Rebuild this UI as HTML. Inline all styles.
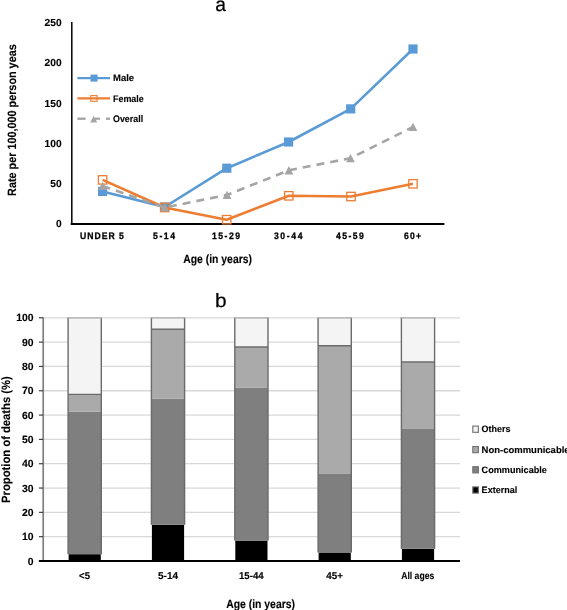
<!DOCTYPE html>
<html><head><meta charset="utf-8"><style>
html,body{margin:0;padding:0;background:#fff;}
svg{display:block;font-family:"Liberation Sans", sans-serif;will-change:transform;text-rendering:geometricPrecision;}
text[font-weight="bold"]{stroke:#000;stroke-width:.12px;}
</style></head><body>
<svg width="567" height="610" viewBox="0 0 567 610">
<rect width="567" height="610" fill="#fff"/>
<text x="215.3" y="10.5" font-size="19.6" font-weight="normal" text-anchor="start" fill="#000" textLength="10.7" lengthAdjust="spacingAndGlyphs" stroke="#000" stroke-width="0.25">a</text>
<line x1="71.8" y1="22" x2="71.8" y2="224.8" stroke="#000" stroke-width="1.5"/>
<line x1="70.7" y1="224" x2="444.4" y2="224" stroke="#000" stroke-width="1.9"/>
<text x="61.6" y="227.4" font-size="10.2" font-weight="bold" text-anchor="end" fill="#000">0</text>
<text x="61.6" y="187.12" font-size="10.2" font-weight="bold" text-anchor="end" fill="#000">50</text>
<text x="61.6" y="146.84" font-size="10.2" font-weight="bold" text-anchor="end" fill="#000">100</text>
<text x="61.6" y="106.56" font-size="10.2" font-weight="bold" text-anchor="end" fill="#000">150</text>
<text x="61.6" y="66.28" font-size="10.2" font-weight="bold" text-anchor="end" fill="#000">200</text>
<text x="61.6" y="26.0" font-size="10.2" font-weight="bold" text-anchor="end" fill="#000">250</text>
<text transform="translate(16.3,195.9) rotate(-90)" x="0" y="0" font-size="12" font-weight="bold" textLength="151.6" lengthAdjust="spacingAndGlyphs">Rate per 100,000 person yeas</text>
<text transform="translate(80,239.4) scale(0.92,1)" x="0" y="0" font-size="9.4" font-weight="bold" style="stroke-width:.3px" textLength="47.72" lengthAdjust="spacing">UNDER 5</text>
<text transform="translate(153.1,239.4) scale(0.92,1)" x="0" y="0" font-size="9.4" font-weight="bold" style="stroke-width:.3px" textLength="23.80" lengthAdjust="spacing">5-14</text>
<text transform="translate(212,239.4) scale(0.92,1)" x="0" y="0" font-size="9.4" font-weight="bold" style="stroke-width:.3px" textLength="30.43" lengthAdjust="spacing">15-29</text>
<text transform="translate(273.9,239.4) scale(0.92,1)" x="0" y="0" font-size="9.4" font-weight="bold" style="stroke-width:.3px" textLength="31.20" lengthAdjust="spacing">30-44</text>
<text transform="translate(336.1,239.4) scale(0.92,1)" x="0" y="0" font-size="9.4" font-weight="bold" style="stroke-width:.3px" textLength="30.11" lengthAdjust="spacing">45-59</text>
<text transform="translate(403.9,239.4) scale(0.92,1)" x="0" y="0" font-size="9.4" font-weight="bold" style="stroke-width:.3px" textLength="18.70" lengthAdjust="spacing">60+</text>
<text x="183.2" y="262.6" font-size="12" font-weight="bold" text-anchor="start" fill="#000" textLength="68.8" lengthAdjust="spacingAndGlyphs">Age (in years)</text>
<polyline points="102.6,191.4 164.7,207 226.8,168.2 288.6,142 350.7,108.9 413,49" fill="none" stroke="#5b9bd5" stroke-width="2.6" stroke-linejoin="round"/>
<rect x="98.0" y="186.8" width="9.2" height="9.2" fill="#5b9bd5"/>
<rect x="160.1" y="202.4" width="9.2" height="9.2" fill="#5b9bd5"/>
<rect x="222.20000000000002" y="163.6" width="9.2" height="9.2" fill="#5b9bd5"/>
<rect x="284.0" y="137.4" width="9.2" height="9.2" fill="#5b9bd5"/>
<rect x="346.09999999999997" y="104.30000000000001" width="9.2" height="9.2" fill="#5b9bd5"/>
<rect x="408.4" y="44.4" width="9.2" height="9.2" fill="#5b9bd5"/>
<polyline points="102.6,179.9 164.7,207.5 226.7,219.7 288.8,195.8 351,196.5 413,183.8" fill="none" stroke="#ed7d31" stroke-width="2.6" stroke-linejoin="round"/>
<rect x="98.39999999999999" y="175.70000000000002" width="8.4" height="8.4" fill="none" stroke="#ed7d31" stroke-width="1.3"/>
<rect x="160.5" y="203.3" width="8.4" height="8.4" fill="none" stroke="#ed7d31" stroke-width="1.3"/>
<rect x="222.5" y="215.5" width="8.4" height="8.4" fill="none" stroke="#ed7d31" stroke-width="1.3"/>
<rect x="284.6" y="191.60000000000002" width="8.4" height="8.4" fill="none" stroke="#ed7d31" stroke-width="1.3"/>
<rect x="346.8" y="192.3" width="8.4" height="8.4" fill="none" stroke="#ed7d31" stroke-width="1.3"/>
<rect x="408.8" y="179.60000000000002" width="8.4" height="8.4" fill="none" stroke="#ed7d31" stroke-width="1.3"/>
<polyline points="102.6,186 164.7,207.5 227,195 288.9,170.3 350.5,158.2 413,127" fill="none" stroke="#a5a5a5" stroke-width="2.6" stroke-dasharray="8 6" stroke-linejoin="round"/>
<polygon points="102.6,181.7 107.0,190.1 98.19999999999999,190.1" fill="#a5a5a5"/>
<polygon points="164.7,203.2 169.1,211.6 160.29999999999998,211.6" fill="#a5a5a5"/>
<polygon points="227,190.7 231.4,199.1 222.6,199.1" fill="#a5a5a5"/>
<polygon points="288.9,166.0 293.29999999999995,174.4 284.5,174.4" fill="#a5a5a5"/>
<polygon points="350.5,153.89999999999998 354.9,162.29999999999998 346.1,162.29999999999998" fill="#a5a5a5"/>
<polygon points="413,122.7 417.4,131.1 408.6,131.1" fill="#a5a5a5"/>
<line x1="77.4" y1="78.1" x2="110" y2="78.1" stroke="#5b9bd5" stroke-width="2.2"/>
<rect x="90.5" y="74.6" width="7.1" height="7" fill="#5b9bd5"/>
<line x1="77.4" y1="98.4" x2="110" y2="98.4" stroke="#ed7d31" stroke-width="2.2"/>
<rect x="90.8" y="95.6" width="6.3" height="5.7" fill="none" stroke="#ed7d31" stroke-width="1.1"/>
<line x1="77.4" y1="118.7" x2="85.6" y2="118.7" stroke="#a5a5a5" stroke-width="2.4"/>
<line x1="106" y1="118.7" x2="110" y2="118.7" stroke="#a5a5a5" stroke-width="2.4"/>
<polygon points="93.7,115.8 97.2,122.6 90.2,122.6" fill="#a5a5a5"/>
<line x1="95" y1="118.7" x2="100" y2="118.7" stroke="#a5a5a5" stroke-width="2.2"/>
<text x="113" y="81.2" font-size="9.5" font-weight="bold" text-anchor="start" fill="#000" textLength="21.1" lengthAdjust="spacingAndGlyphs">Male</text>
<text x="113" y="101.5" font-size="9.5" font-weight="bold" text-anchor="start" fill="#000" textLength="30.8" lengthAdjust="spacingAndGlyphs">Female</text>
<text x="113" y="121.9" font-size="9.5" font-weight="bold" text-anchor="start" fill="#000" textLength="30.1" lengthAdjust="spacingAndGlyphs">Overall</text>
<text x="214.9" y="307.2" font-size="19.3" font-weight="normal" text-anchor="start" fill="#000" textLength="11.6" lengthAdjust="spacingAndGlyphs" stroke="#000" stroke-width="0.25">b</text>
<line x1="43.5" y1="536.68" x2="460" y2="536.68" stroke="#d8d8d8" stroke-width="1.3"/>
<line x1="43.5" y1="512.36" x2="460" y2="512.36" stroke="#d8d8d8" stroke-width="1.3"/>
<line x1="43.5" y1="488.04" x2="460" y2="488.04" stroke="#d8d8d8" stroke-width="1.3"/>
<line x1="43.5" y1="463.72" x2="460" y2="463.72" stroke="#d8d8d8" stroke-width="1.3"/>
<line x1="43.5" y1="439.40" x2="460" y2="439.40" stroke="#d8d8d8" stroke-width="1.3"/>
<line x1="43.5" y1="415.08" x2="460" y2="415.08" stroke="#d8d8d8" stroke-width="1.3"/>
<line x1="43.5" y1="390.76" x2="460" y2="390.76" stroke="#d8d8d8" stroke-width="1.3"/>
<line x1="43.5" y1="366.44" x2="460" y2="366.44" stroke="#d8d8d8" stroke-width="1.3"/>
<line x1="43.5" y1="342.12" x2="460" y2="342.12" stroke="#d8d8d8" stroke-width="1.3"/>
<line x1="43.5" y1="317.80" x2="460" y2="317.80" stroke="#d8d8d8" stroke-width="1.3"/>
<rect x="68.60" y="554.19" width="32.20" height="6.81" fill="#000"/>
<rect x="68.10" y="411.68" width="33.20" height="142.52" fill="#7f7f7f"/>
<rect x="68.10" y="394.41" width="33.20" height="17.27" fill="#aaaaaa"/>
<rect x="68.10" y="317.80" width="33.20" height="76.61" fill="#f4f4f4"/>
<line x1="68.10" y1="317.80" x2="68.10" y2="554.19" stroke="#6b6b6b" stroke-width="1.4"/>
<line x1="101.30" y1="317.80" x2="101.30" y2="554.19" stroke="#6b6b6b" stroke-width="1.4"/>
<line x1="67.90" y1="394.41" x2="101.50" y2="394.41" stroke="#6b6b6b" stroke-width="1.4"/>
<line x1="67.40" y1="317.80" x2="102.00" y2="317.80" stroke="#a8a8a8" stroke-width="1.2"/>
<rect x="151.90" y="524.76" width="32.20" height="36.24" fill="#000"/>
<rect x="151.40" y="398.79" width="33.20" height="125.98" fill="#7f7f7f"/>
<rect x="151.40" y="329.23" width="33.20" height="69.56" fill="#aaaaaa"/>
<rect x="151.40" y="317.80" width="33.20" height="11.43" fill="#f4f4f4"/>
<line x1="151.40" y1="317.80" x2="151.40" y2="524.76" stroke="#6b6b6b" stroke-width="1.4"/>
<line x1="184.60" y1="317.80" x2="184.60" y2="524.76" stroke="#6b6b6b" stroke-width="1.4"/>
<line x1="151.20" y1="329.23" x2="184.80" y2="329.23" stroke="#6b6b6b" stroke-width="1.4"/>
<line x1="150.70" y1="317.80" x2="185.30" y2="317.80" stroke="#a8a8a8" stroke-width="1.2"/>
<rect x="235.30" y="540.57" width="32.20" height="20.43" fill="#000"/>
<rect x="234.80" y="387.84" width="33.20" height="152.73" fill="#7f7f7f"/>
<rect x="234.80" y="346.98" width="33.20" height="40.86" fill="#aaaaaa"/>
<rect x="234.80" y="317.80" width="33.20" height="29.18" fill="#f4f4f4"/>
<line x1="234.80" y1="317.80" x2="234.80" y2="540.57" stroke="#6b6b6b" stroke-width="1.4"/>
<line x1="268.00" y1="317.80" x2="268.00" y2="540.57" stroke="#6b6b6b" stroke-width="1.4"/>
<line x1="234.60" y1="346.98" x2="268.20" y2="346.98" stroke="#6b6b6b" stroke-width="1.4"/>
<line x1="234.10" y1="317.80" x2="268.70" y2="317.80" stroke="#a8a8a8" stroke-width="1.2"/>
<rect x="318.60" y="552.49" width="32.20" height="8.51" fill="#000"/>
<rect x="318.10" y="473.93" width="33.20" height="78.55" fill="#7f7f7f"/>
<rect x="318.10" y="345.77" width="33.20" height="128.17" fill="#aaaaaa"/>
<rect x="318.10" y="317.80" width="33.20" height="27.97" fill="#f4f4f4"/>
<line x1="318.10" y1="317.80" x2="318.10" y2="552.49" stroke="#6b6b6b" stroke-width="1.4"/>
<line x1="351.30" y1="317.80" x2="351.30" y2="552.49" stroke="#6b6b6b" stroke-width="1.4"/>
<line x1="317.90" y1="345.77" x2="351.50" y2="345.77" stroke="#6b6b6b" stroke-width="1.4"/>
<line x1="317.40" y1="317.80" x2="352.00" y2="317.80" stroke="#a8a8a8" stroke-width="1.2"/>
<rect x="401.90" y="548.84" width="32.20" height="12.16" fill="#000"/>
<rect x="401.40" y="428.94" width="33.20" height="119.90" fill="#7f7f7f"/>
<rect x="401.40" y="362.06" width="33.20" height="66.88" fill="#aaaaaa"/>
<rect x="401.40" y="317.80" width="33.20" height="44.26" fill="#f4f4f4"/>
<line x1="401.40" y1="317.80" x2="401.40" y2="548.84" stroke="#6b6b6b" stroke-width="1.4"/>
<line x1="434.60" y1="317.80" x2="434.60" y2="548.84" stroke="#6b6b6b" stroke-width="1.4"/>
<line x1="401.20" y1="362.06" x2="434.80" y2="362.06" stroke="#6b6b6b" stroke-width="1.4"/>
<line x1="400.70" y1="317.80" x2="435.30" y2="317.80" stroke="#a8a8a8" stroke-width="1.2"/>
<line x1="43.2" y1="317.3" x2="43.2" y2="561" stroke="#7f7f7f" stroke-width="1.7"/>
<line x1="38.9" y1="561.00" x2="43" y2="561.00" stroke="#404040" stroke-width="1.2"/>
<line x1="38.9" y1="536.68" x2="43" y2="536.68" stroke="#404040" stroke-width="1.2"/>
<line x1="38.9" y1="512.36" x2="43" y2="512.36" stroke="#404040" stroke-width="1.2"/>
<line x1="38.9" y1="488.04" x2="43" y2="488.04" stroke="#404040" stroke-width="1.2"/>
<line x1="38.9" y1="463.72" x2="43" y2="463.72" stroke="#404040" stroke-width="1.2"/>
<line x1="38.9" y1="439.40" x2="43" y2="439.40" stroke="#404040" stroke-width="1.2"/>
<line x1="38.9" y1="415.08" x2="43" y2="415.08" stroke="#404040" stroke-width="1.2"/>
<line x1="38.9" y1="390.76" x2="43" y2="390.76" stroke="#404040" stroke-width="1.2"/>
<line x1="38.9" y1="366.44" x2="43" y2="366.44" stroke="#404040" stroke-width="1.2"/>
<line x1="38.9" y1="342.12" x2="43" y2="342.12" stroke="#404040" stroke-width="1.2"/>
<line x1="38.9" y1="317.80" x2="43" y2="317.80" stroke="#404040" stroke-width="1.2"/>
<line x1="38.9" y1="561" x2="460" y2="561" stroke="#000" stroke-width="1.9"/>
<text x="33.5" y="564.6" font-size="10.4" font-weight="bold" text-anchor="end" fill="#000">0</text>
<text x="33.5" y="540.28" font-size="10.4" font-weight="bold" text-anchor="end" fill="#000">10</text>
<text x="33.5" y="515.96" font-size="10.4" font-weight="bold" text-anchor="end" fill="#000">20</text>
<text x="33.5" y="491.64" font-size="10.4" font-weight="bold" text-anchor="end" fill="#000">30</text>
<text x="33.5" y="467.32" font-size="10.4" font-weight="bold" text-anchor="end" fill="#000">40</text>
<text x="33.5" y="443.0" font-size="10.4" font-weight="bold" text-anchor="end" fill="#000">50</text>
<text x="33.5" y="418.68" font-size="10.4" font-weight="bold" text-anchor="end" fill="#000">60</text>
<text x="33.5" y="394.36" font-size="10.4" font-weight="bold" text-anchor="end" fill="#000">70</text>
<text x="33.5" y="370.04" font-size="10.4" font-weight="bold" text-anchor="end" fill="#000">80</text>
<text x="33.5" y="345.72" font-size="10.4" font-weight="bold" text-anchor="end" fill="#000">90</text>
<text x="33.5" y="321.4" font-size="10.4" font-weight="bold" text-anchor="end" fill="#000">100</text>
<text transform="translate(10,502.9) rotate(-90)" x="0" y="0" font-size="12" font-weight="bold" textLength="126.7" lengthAdjust="spacingAndGlyphs">Propotion of deaths (%)</text>
<text x="79.1" y="578.8" font-size="10" font-weight="bold" textLength="10.9" lengthAdjust="spacingAndGlyphs">&lt;5</text>
<text x="158.0" y="578.8" font-size="10" font-weight="bold" textLength="20" lengthAdjust="spacingAndGlyphs">5-14</text>
<text x="239.0" y="578.8" font-size="10" font-weight="bold" textLength="24.7" lengthAdjust="spacingAndGlyphs">15-44</text>
<text x="326.3" y="578.8" font-size="10" font-weight="bold" textLength="16.7" lengthAdjust="spacingAndGlyphs">45+</text>
<text x="401.2" y="578.8" font-size="10" font-weight="bold" textLength="33.1" lengthAdjust="spacingAndGlyphs">All ages</text>
<text x="226.2" y="607.9" font-size="12" font-weight="bold" text-anchor="start" fill="#000" textLength="68.8" lengthAdjust="spacingAndGlyphs">Age (in years)</text>
<rect x="472.8" y="426.1" width="5.6" height="6.2" fill="#f2f2f2" stroke="#707070" stroke-width="1.1"/>
<text x="481.6" y="432.4" font-size="9.3" font-weight="bold" text-anchor="start" fill="#000" textLength="28.9" lengthAdjust="spacingAndGlyphs">Others</text>
<rect x="472.8" y="446.5" width="5.6" height="6.2" fill="#a9a9a9" stroke="#707070" stroke-width="1.1"/>
<text x="481.6" y="452.8" font-size="9.3" font-weight="bold" text-anchor="start" fill="#000" textLength="88" lengthAdjust="spacingAndGlyphs">Non-communicable</text>
<rect x="472.8" y="466.7" width="5.6" height="6.2" fill="#7f7f7f" stroke="#707070" stroke-width="1.1"/>
<text x="481.6" y="473.0" font-size="9.3" font-weight="bold" text-anchor="start" fill="#000" textLength="65.3" lengthAdjust="spacingAndGlyphs">Communicable</text>
<rect x="472.8" y="486.9" width="5.6" height="6.2" fill="#000" stroke="#707070" stroke-width="1.1"/>
<text x="481.6" y="493.2" font-size="9.3" font-weight="bold" text-anchor="start" fill="#000" textLength="35.7" lengthAdjust="spacingAndGlyphs">External</text>
</svg>
</body></html>
